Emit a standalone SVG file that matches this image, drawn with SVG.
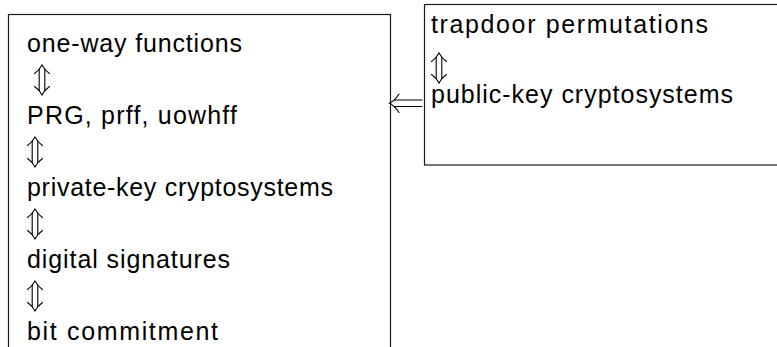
<svg xmlns="http://www.w3.org/2000/svg" width="777" height="347" viewBox="0 0 777 347">
<style>
.box{fill:none;stroke:#1a1a1a;stroke-width:1.2}
.t{font-family:"Liberation Sans",Arial,sans-serif;font-size:25px;fill:#000}
.c{fill:none;stroke:#000;stroke-width:1.1;stroke-linecap:round}
</style>
<defs>
<g id="updown" class="c">
<path d="M-2.8 -10.5 V10.5 M2.8 -10.5 V10.5"/>
<path d="M-7.5 -6.5 Q-3 -9.5 0 -15 Q3 -9.5 7.5 -6.5"/>
<path d="M-7.5 6.5 Q-3 9.5 0 15 Q3 9.5 7.5 6.5"/>
</g>
</defs>
<rect width="777" height="347" fill="#fff"/>
<g id="node-left">
<rect class="box" x="8.5" y="14.5" width="382" height="360"/>
<text class="t" x="27" y="52" textLength="215" lengthAdjust="spacing">one-way functions</text>
<text class="t" x="27" y="124" textLength="210" lengthAdjust="spacing">PRG, prff, uowhff</text>
<text class="t" x="27" y="196" textLength="306" lengthAdjust="spacing">private-key cryptosystems</text>
<text class="t" x="27" y="268" textLength="203" lengthAdjust="spacing">digital signatures</text>
<text class="t" x="27" y="340" textLength="191" lengthAdjust="spacing">bit commitment</text>
</g>
<g id="node-right">
<rect class="box" x="424.5" y="4.5" width="360" height="160.5"/>
<text class="t" x="431" y="33" textLength="277" lengthAdjust="spacing">trapdoor permutations</text>
<text class="t" x="431" y="103" textLength="302" lengthAdjust="spacing">public-key cryptosystems</text>
</g>
<g id="connectors">
<use href="#updown" x="42" y="80"/>
<use href="#updown" x="35" y="152"/>
<use href="#updown" x="35" y="224"/>
<use href="#updown" x="35" y="296"/>
<use href="#updown" x="439" y="68"/>
<path class="c" d="M422 100 H394 M422 106.5 H394 M399 94 Q395 100.5 389.5 103.25 Q395 106 399 112.5"/>
</g>
</svg>
